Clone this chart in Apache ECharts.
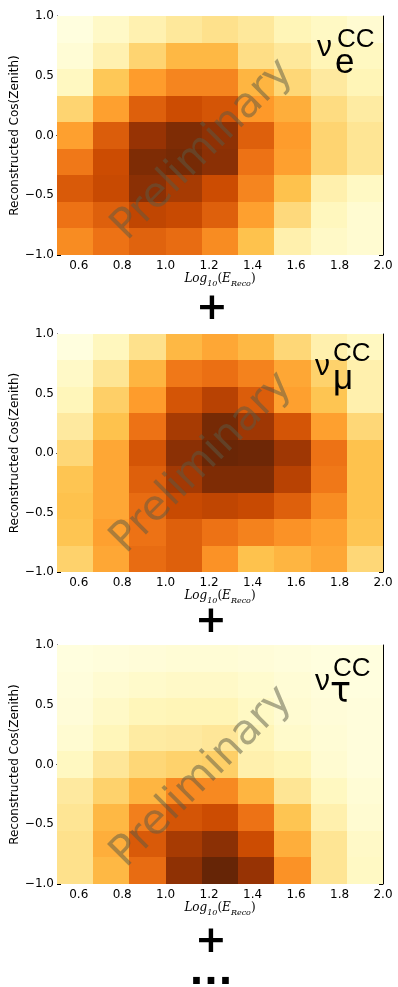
<!DOCTYPE html>
<html><head><meta charset="utf-8">
<script src="https://cdn.jsdelivr.net/npm/echarts@6/dist/echarts.min.js"></script>
<style>html,body{margin:0;padding:0;background:#fff}#c{width:398px;height:987px}</style>
</head><body><div id="c"></div>
<script>
// Histogram bin edges
const xBinEdges = [0.5, 0.6667, 0.8333, 1.0, 1.1667, 1.3333, 1.5, 1.6667, 1.8333, 2.0];
const yBinEdges = [-1.0, -0.7778, -0.5556, -0.3333, -0.1111, 0.1111, 0.3333, 0.5556, 0.7778, 1.0];
const xTickValues = [0.6, 0.8, 1.0, 1.2, 1.4, 1.6, 1.8, 2.0];
const yTickValues = [-1.0, -0.5, 0.0, 0.5, 1.0];

// Normalised rates; rows from cos(zenith)=1.0 (top) down to -1.0, columns from low to high energy
const nuE = [
  [0.02, 0.09, 0.16, 0.22, 0.26, 0.22, 0.14, 0.10, 0.06],
  [0.05, 0.16, 0.31, 0.41, 0.41, 0.27, 0.22, 0.14, 0.11],
  [0.11, 0.36, 0.49, 0.56, 0.56, 0.42, 0.30, 0.21, 0.14],
  [0.31, 0.48, 0.68, 0.75, 0.72, 0.50, 0.44, 0.28, 0.20],
  [0.48, 0.69, 0.88, 0.94, 0.90, 0.68, 0.49, 0.31, 0.24],
  [0.60, 0.75, 0.94, 0.96, 0.91, 0.62, 0.48, 0.31, 0.24],
  [0.70, 0.76, 0.91, 0.84, 0.75, 0.56, 0.38, 0.17, 0.10],
  [0.62, 0.68, 0.78, 0.76, 0.68, 0.48, 0.29, 0.12, 0.06],
  [0.54, 0.62, 0.67, 0.64, 0.54, 0.38, 0.17, 0.09, 0.06]
];
const nuMu = [
  [0.02, 0.12, 0.26, 0.41, 0.46, 0.41, 0.30, 0.17, 0.11],
  [0.09, 0.24, 0.42, 0.60, 0.63, 0.57, 0.46, 0.32, 0.17],
  [0.13, 0.33, 0.49, 0.72, 0.80, 0.69, 0.48, 0.37, 0.17],
  [0.21, 0.38, 0.62, 0.84, 0.96, 0.86, 0.72, 0.48, 0.30],
  [0.30, 0.46, 0.72, 0.91, 0.99, 0.98, 0.86, 0.62, 0.38],
  [0.37, 0.46, 0.68, 0.85, 0.94, 0.94, 0.80, 0.60, 0.38],
  [0.38, 0.46, 0.64, 0.76, 0.78, 0.76, 0.68, 0.54, 0.38],
  [0.37, 0.48, 0.62, 0.68, 0.62, 0.57, 0.52, 0.48, 0.37],
  [0.32, 0.46, 0.64, 0.68, 0.52, 0.38, 0.42, 0.46, 0.30]
];
const nuTau = [
  [0.02, 0.03, 0.04, 0.05, 0.05, 0.04, 0.03, 0.02, 0.02],
  [0.03, 0.06, 0.08, 0.09, 0.09, 0.07, 0.05, 0.03, 0.02],
  [0.04, 0.09, 0.13, 0.14, 0.14, 0.10, 0.06, 0.04, 0.03],
  [0.06, 0.13, 0.20, 0.21, 0.23, 0.14, 0.08, 0.05, 0.03],
  [0.11, 0.23, 0.30, 0.32, 0.33, 0.17, 0.14, 0.06, 0.03],
  [0.21, 0.32, 0.42, 0.55, 0.55, 0.42, 0.24, 0.11, 0.05],
  [0.24, 0.41, 0.58, 0.72, 0.75, 0.62, 0.37, 0.17, 0.06],
  [0.26, 0.44, 0.70, 0.84, 0.91, 0.75, 0.44, 0.24, 0.09],
  [0.26, 0.41, 0.64, 0.90, 1.00, 0.88, 0.52, 0.24, 0.10]
];
const panelData = [nuE, nuMu, nuTau];
const flavourSub = ['e', 'μ', 'τ'];
const yAxisTitle = 'Reconstructed Cos(Zenith)';
const watermark = 'Preliminary';

const ylorbr = ['#ffffe5', '#fff7bc', '#fee391', '#fec44f', '#fe9929', '#ec7014', '#cc4c02', '#993404', '#662506'];

const grids = [
  {left: 57, top: 16, width: 326, height: 239, outerBoundsMode: 'none', containLabel: false},
  {left: 57, top: 334, width: 326, height: 238, outerBoundsMode: 'none', containLabel: false},
  {left: 57, top: 645, width: 326, height: 239, outerBoundsMode: 'none', containLabel: false}
];

const fmt = v => (v < 0 ? '\u2212' : '') + Math.abs(v).toFixed(1);
const axisLineStyle = {show: true, lineStyle: {color: '#000', width: 1}};
const tickStyle = {show: true, inside: true, length: 4, lineStyle: {color: '#000', width: 1}};

const xAxes = [], yAxes = [], series = [], graphics = [];
grids.forEach((g, i) => {
  xAxes.push({
    type: 'value', gridIndex: i, position: 'bottom', min: 0.5, max: 2.0,
    axisLine: axisLineStyle, splitLine: {show: false},
    axisTick: Object.assign({customValues: xTickValues}, tickStyle),
    axisLabel: {customValues: xTickValues, formatter: fmt, margin: 5, color: '#000', fontSize: 12, fontFamily: 'DejaVu Sans'},
    name: '{i|Log}{s|10}{p|(}{i|E}{s|Reco}{p|)}', nameLocation: 'middle', nameGap: 18, nameMoveOverlap: false,
    nameTextStyle: {
      color: '#000',
      rich: {
        i: {fontFamily: 'DejaVu Serif', fontStyle: 'italic', fontSize: 12, verticalAlign: 'top', color: '#000'},
        p: {fontFamily: 'DejaVu Serif', fontSize: 12, verticalAlign: 'top', color: '#000'},
        s: {fontFamily: 'DejaVu Serif', fontStyle: 'italic', fontSize: 8, verticalAlign: 'top', padding: [7, 0, 0, 0], color: '#000'}
      }
    }
  });
  xAxes.push({
    type: 'value', gridIndex: i, position: 'top', min: 0.5, max: 2.0,
    axisLine: axisLineStyle, splitLine: {show: false},
    axisTick: Object.assign({customValues: xTickValues}, tickStyle),
    axisLabel: {show: false}
  });
  yAxes.push({
    type: 'value', gridIndex: i, position: 'left', min: -1, max: 1, interval: 0.5,
    axisLine: axisLineStyle, splitLine: {show: false},
    axisTick: Object.assign({customValues: yTickValues}, tickStyle),
    axisLabel: {customValues: yTickValues, formatter: fmt, margin: 3, color: '#000', fontSize: 12, fontFamily: 'DejaVu Sans'},
    name: yAxisTitle, nameLocation: 'middle', nameGap: 36, nameMoveOverlap: false,
    nameTextStyle: {color: '#000', fontSize: 12, fontFamily: 'DejaVu Sans'}
  });
  yAxes.push({
    type: 'value', gridIndex: i, position: 'right', min: -1, max: 1, interval: 0.5,
    axisLine: axisLineStyle, splitLine: {show: false},
    axisTick: Object.assign({customValues: yTickValues}, tickStyle),
    axisLabel: {show: false}
  });

  const rows = panelData[i];
  const data = [];
  rows.forEach((row, r) => {
    const yb = rows.length - 1 - r;
    row.forEach((v, c) => {
      data.push([xBinEdges[c], xBinEdges[c + 1], yBinEdges[yb], yBinEdges[yb + 1], v]);
    });
  });
  series.push({
    type: 'custom', coordinateSystem: 'cartesian2d',
    xAxisIndex: 2 * i, yAxisIndex: 2 * i,
    encode: {x: [0, 1], y: [2, 3]},
    data: data,
    z: 1,
    renderItem: (params, api) => {
      const p0 = api.coord([api.value(0), api.value(3)]);
      const p1 = api.coord([api.value(1), api.value(2)]);
      const x0 = Math.round(p0[0]), y0 = Math.round(p0[1]);
      const x1 = Math.round(p1[0]), y1 = Math.round(p1[1]);
      return {type: 'rect', shape: {x: x0, y: y0, width: x1 - x0, height: y1 - y0},
              style: {fill: api.visual('color')}};
    }
  });
});

function txt(x, y, text, size, opts) {
  return {
    type: 'text', x: x, y: y, z: 100,
    style: Object.assign({
      text: text, fontSize: size, fontFamily: 'DejaVu Sans', fill: '#000',
      align: 'left', verticalAlign: 'middle', textAlign: 'left', textVerticalAlign: 'middle'
    }, opts || {})
  };
}

// Watermarks
[[203, 150], [202, 463], [202, 777]].forEach(p => {
  const t = txt(p[0], p[1], watermark, 42, {fill: 'rgba(90,90,70,0.5)', align: 'center', textAlign: 'center'});
  t.rotation = Math.PI / 4;
  graphics.push(t);
});
// Flavour labels
const labelPos = [
  {v: [317, 48], s: [335, 63], cc: [337, 40], f: 'Liberation Sans'},
  {v: [315, 367], s: [333, 379], cc: [333, 354], f: 'Liberation Sans'},
  {v: [315, 682], s: [330, 693], cc: [333, 669], f: 'DejaVu Sans'}
];
labelPos.forEach((p, i) => {
  graphics.push(txt(p.v[0], p.v[1], 'ν', 30, {fontFamily: 'Liberation Sans'}));
  graphics.push(txt(p.s[0], p.s[1], flavourSub[i], 35, {fontFamily: p.f}));
  graphics.push(txt(p.cc[0], p.cc[1], 'CC', 26, {fontFamily: 'Liberation Sans'}));
});
// Plus signs and ellipsis
[[212, 308.7], [211, 622], [211, 941.7]].forEach(p => {
  graphics.push(txt(p[0], p[1], '+', 38, {fontWeight: 'bold', align: 'center', textAlign: 'center'}));
});
graphics.push(txt(211, 974, '...', 38, {fontWeight: 'bold', align: 'center', textAlign: 'center'}));

const chart = echarts.init(document.getElementById('c'), null, {renderer: 'canvas'});
chart.setOption({
  animation: false,
  backgroundColor: '#fff',
  grid: grids,
  xAxis: xAxes,
  yAxis: yAxes,
  visualMap: {
    type: 'continuous', show: false, min: 0, max: 1, dimension: 4,
    seriesIndex: [0, 1, 2], inRange: {color: ylorbr}
  },
  series: series,
  graphic: graphics
});
</script>
</body></html>
